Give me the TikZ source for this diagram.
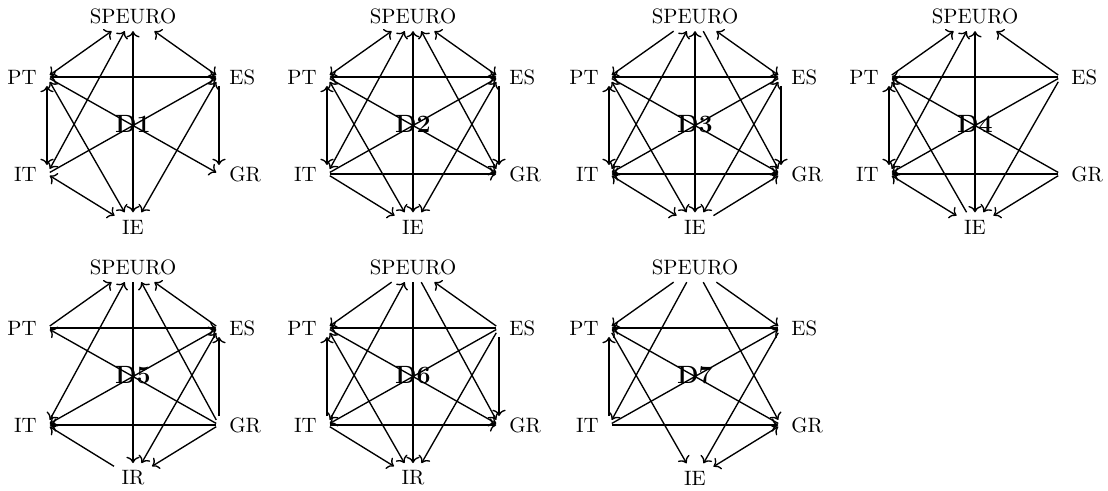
\documentclass[tikz,border=0pt]{standalone}
\usetikzlibrary{arrows.meta,positioning}
\begin{document}
\begin{tikzpicture}[x=0.4808pt,y=-0.4808pt,line width=0.65pt,
  port/.style={inner sep=0pt,minimum width=2pt,minimum height=8pt},
  lab/.style={inner sep=3.33pt},
  dlab/.style={font=\large\bfseries}]
  \useasboundingbox (0,0) rectangle (1108,491);
  % vertices of the seven graphs
  \foreach \d/\x/\y/\b in {1/133/123/IE, 2/413/123/IE, 3/695/123/IE, 4/975/123/IE, 5/133/374/IR, 6/413/374/IR, 7/695/374/IE}{
    \node[lab] (sp\d) at (\x,\y-107) {SPEURO};
    \node[lab] (ie\d) at (\x,\y+104) {\b};
    \node[port] (pt\d) at (\x-86,\y-46) {};
    \node[port] (es\d) at (\x+86,\y-46) {};
    \node[port] (it\d) at (\x-86,\y+51) {};
    \node[port] (gr\d) at (\x+86,\y+51) {};
    \node[lab,left=0pt of pt\d] (ptl\d) {PT};
    \node[lab,right=0pt of es\d] (esl\d) {ES};
    \node[lab,left=0pt of it\d] (itl\d) {IT};
    \node[lab,right=0pt of gr\d] (grl\d) {GR};
    \node[dlab] (d\d) at (\x,\y+1) {D\d};
  }
  % D1
  \path[<->] (sp1) edge (pt1) edge (es1) edge (ie1) edge (it1)
    (pt1) edge (es1) edge (it1) edge (ie1)
    (es1) edge (ie1) (it1) edge (ie1);
  \path[->] (pt1) edge (gr1) (it1) edge (es1) (es1) edge (gr1);
  % D2
  \path[<->] (sp2) edge (pt2) edge (es2) edge (ie2) edge (it2) edge (gr2)
    (pt2) edge (es2) edge (it2) edge (ie2)
    (es2) edge (ie2);
  \path[->] (pt2) edge (gr2) (it2) edge (es2) edge (gr2) edge (ie2) (es2) edge (gr2);
  % D3
  \path[<->] (sp3) edge (es3) edge (ie3) edge (it3)
    (pt3) edge (es3) edge (it3) edge (ie3)
    (it3) edge (gr3) edge (ie3) (es3) edge (ie3);
  \path[->] (sp3) edge (pt3) edge (gr3) (pt3) edge (gr3)
    (es3) edge (it3) edge (gr3) (ie3) edge (gr3);
  % D4
  \path[<->] (sp4) edge (ie4) edge (it4) (pt4) edge (it4) (it4) edge (ie4);
  \path[->] (pt4) edge (sp4) (es4) edge (sp4) edge (pt4) edge (it4) edge (ie4)
    (gr4) edge (pt4) edge (it4) edge (ie4) (ie4) edge (pt4);
  % D5
  \path[<->] (sp5) edge (it5) (es5) edge (it5) edge (ie5);
  \path[->] (pt5) edge (sp5) edge (es5) (es5) edge (sp5) (sp5) edge (ie5)
    (gr5) edge (sp5) edge (pt5) edge (es5) edge (it5) edge (ie5) (ie5) edge (it5);
  % D6
  \path[<->] (sp6) edge (it6) (pt6) edge (ie6);
  \path[->] (sp6) edge (pt6) edge (ie6) edge (gr6) (es6) edge (sp6) edge (pt6) edge (it6) edge (gr6) edge (ie6)
    (it6) edge (pt6) edge (gr6) edge (ie6) (pt6) edge (gr6);
  % D7
  \path[<->] (ie7) edge (gr7);
  \path[->] (sp7) edge (pt7) edge (es7) edge (it7) edge (gr7) (es7) edge (pt7) edge (ie7)
    (it7) edge (pt7) edge (es7) edge (gr7) (gr7) edge (pt7) (pt7) edge (ie7);
\end{tikzpicture}
\end{document}
